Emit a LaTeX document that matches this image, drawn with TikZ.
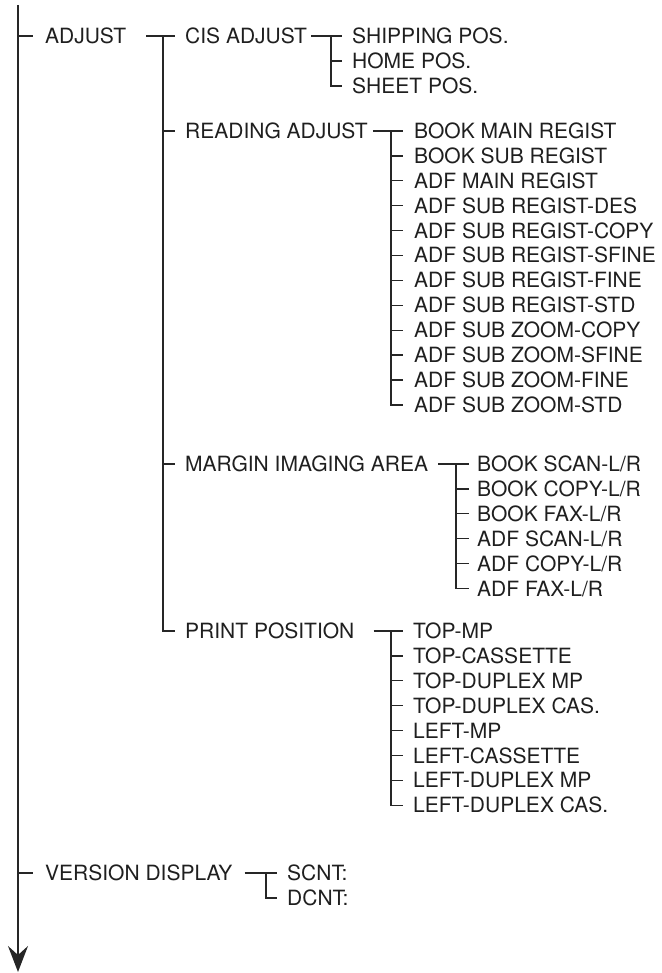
\documentclass[tikz,border=0pt]{standalone}
\usepackage{fontspec}
\setmainfont{TeX Gyre Heros}
\usetikzlibrary{arrows.meta}
\begin{document}
\begin{tikzpicture}[x=1pt,y=-1pt,
  lbl/.style={anchor=west, inner sep=0pt, text height=15pt, text depth=0pt,
    font=\fontsize{21}{24}\selectfont, text=black!88},
  ln/.style={line width=1.3pt, draw=black!85}]
\useasboundingbox (0,0) rectangle (661,973);
% main line
\coordinate (top) at (18,5);
\coordinate (bot) at (18,972);
\draw[ln,-{Stealth[length=26pt,width=20pt,inset=9pt]}] (top) -- (bot);
% level 1
\node[lbl] (adj) at (45,36) {ADJUST};
\node[lbl] (ver) at (45,873) {VERSION DISPLAY};
\draw[ln] (top |- adj.west) -- ([xshift=-12pt]adj.west);
\draw[ln] (top |- ver.west) -- ([xshift=-12pt]ver.west);
% level 2
\node[lbl] (cis) at (185,36) {CIS ADJUST};
\node[lbl] (rd) at (185,131) {READING ADJUST};
\node[lbl] (mg) at (185,464) {MARGIN IMAGING AREA};
\node[lbl] (pp) at (185,631) {PRINT POSITION};
\coordinate (ja) at (163,36);
\draw[ln] ([xshift=20pt]adj.east) -- ([xshift=-10pt]cis.west);
\draw[ln] (ja) -- (ja |- pp.west) -- ([xshift=-10pt]pp.west);
\draw[ln] (ja |- rd.west) -- ([xshift=-10pt]rd.west);
\draw[ln] (ja |- mg.west) -- ([xshift=-10pt]mg.west);
% CIS children
\node[lbl] (c1) at (352,36) {SHIPPING POS.};
\node[lbl] (c2) at (352,61) {HOME POS.};
\node[lbl] (c3) at (352,86) {SHEET POS.};
\coordinate (jc) at (331,36);
\draw[ln] ([xshift=4pt]cis.east) -- ([xshift=-10pt]c1.west);
\draw[ln] (jc) -- (jc |- c3.west) -- ([xshift=-10pt]c3.west);
\draw[ln] (jc |- c2.west) -- ([xshift=-10pt]c2.west);
% READING children
\foreach [count=\i] \t in {BOOK MAIN REGIST,BOOK SUB REGIST,ADF MAIN REGIST,ADF SUB REGIST-DES,ADF SUB REGIST-COPY,ADF SUB REGIST-SFINE,ADF SUB REGIST-FINE,ADF SUB REGIST-STD,ADF SUB ZOOM-COPY,ADF SUB ZOOM-SFINE,ADF SUB ZOOM-FINE,ADF SUB ZOOM-STD}
  \node[lbl] (r\i) at (414,{131+24.9*(\i-1)}) {\t};
\coordinate (jr) at (391,131);
\draw[ln] ([xshift=5pt]rd.east) -- ([xshift=-11pt]r1.west);
\draw[ln] (jr) -- (jr |- r12.west) -- ([xshift=-11pt]r12.west);
\foreach \i in {2,...,11} \draw[ln] (jr |- r\i.west) -- ([xshift=-11pt]r\i.west);
% MARGIN children
\foreach [count=\i] \t in {BOOK SCAN-L/R,BOOK COPY-L/R,BOOK FAX-L/R,ADF SCAN-L/R,ADF COPY-L/R,ADF FAX-L/R}
  \node[lbl] (m\i) at (477,{464+24.9*(\i-1)}) {\t};
\coordinate (jm) at (456,464);
\draw[ln] ([xshift=10pt]mg.east) -- ([xshift=-8pt]m1.west);
\draw[ln] (jm) -- (jm |- m6.west) -- ([xshift=-8pt]m6.west);
\foreach \i in {2,...,5} \draw[ln] (jm |- m\i.west) -- ([xshift=-8pt]m\i.west);
% PRINT children
\foreach [count=\i] \t in {TOP-MP,TOP-CASSETTE,TOP-DUPLEX MP,TOP-DUPLEX CAS.,LEFT-MP,LEFT-CASSETTE,LEFT-DUPLEX MP,LEFT-DUPLEX CAS.}
  \node[lbl] (p\i) at (413,{631+24.9*(\i-1)}) {\t};
\coordinate (jp) at (391,631);
\draw[ln] ([xshift=19pt]pp.east) -- ([xshift=-10pt]p1.west);
\draw[ln] (jp) -- (jp |- p8.west) -- ([xshift=-10pt]p8.west);
\foreach \i in {2,...,7} \draw[ln] (jp |- p\i.west) -- ([xshift=-10pt]p\i.west);
% VERSION children
\node[lbl] (s1) at (287,873) {SCNT:};
\node[lbl] (s2) at (287,898) {DCNT:};
\coordinate (jv) at (266,873);
\draw[ln] ([xshift=12pt]ver.east) -- ([xshift=-10pt]s1.west);
\draw[ln] (jv) -- (jv |- s2.west) -- ([xshift=-10pt]s2.west);
\end{tikzpicture}
\end{document}
